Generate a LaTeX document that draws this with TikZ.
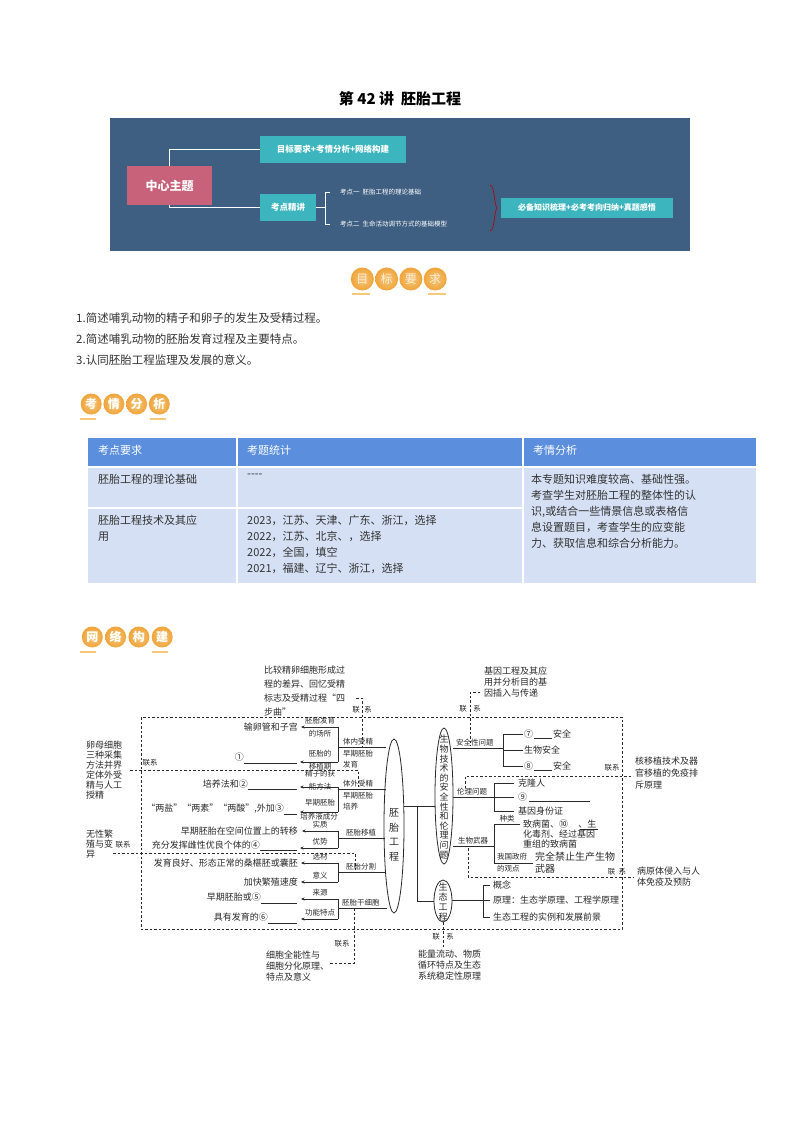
\documentclass[tikz,border=0pt]{standalone}
\usepackage{fontspec}
\setmainfont{Noto Sans CJK SC}
\usetikzlibrary{arrows.meta}
\definecolor{banner}{HTML}{3E5F82}
\definecolor{pinkc}{HTML}{C8617A}
\definecolor{tealc}{HTML}{3DB5BF}
\definecolor{headc}{HTML}{5B8FDD}
\definecolor{bodyc}{HTML}{D5E0F4}
\definecolor{orangec}{HTML}{EFA43B}
\definecolor{orangel}{HTML}{F7C77A}
\definecolor{inkc}{HTML}{2A2A2A}
\begin{document}
\begin{tikzpicture}[x=1pt,y=-1pt,
  mm/.style={font=\fontsize{9}{10.5}\selectfont, inner sep=0pt, text=inkc},
  mms/.style={font=\fontsize{7.5}{8.5}\selectfont, inner sep=0pt, text=inkc},
  ln/.style={draw=inkc, line width=0.8pt},
  arr/.style={draw=inkc, line width=0.8pt, -{Stealth[length=3.5pt,width=3pt]}},
  dsh/.style={draw=inkc, line width=0.7pt, dash pattern=on 2.5pt off 2pt},
  body/.style={font=\fontsize{11.5}{14}\selectfont, inner sep=0pt, anchor=west, text=black!80},
  cell/.style={font=\fontsize{11}{16}\selectfont, inner sep=0pt, anchor=north west, text=black!80, align=left},
  badge/.style={circle, inner sep=0pt, minimum size=23pt, shading=radial, inner color=orangel, outer color=orangec, text=white, font=\fontsize{12}{12}\selectfont\bfseries},
  wt/.style={text=white, inner sep=0pt}]
\useasboundingbox (0,0) rectangle (800,1132);
\fill[white] (0,0) rectangle (800,1132);

% title
\node[font=\fontsize{15}{15}\selectfont\bfseries] (title) at (400,99) {第 42 讲\ \ 胚胎工程};

% banner
\fill[banner] (110,118) rectangle (690,251);
\node[fill=pinkc, minimum width=85pt, minimum height=39pt, wt, font=\fontsize{12}{12}\selectfont\bfseries] (c) at (169.5,185.5) {中心主题};
\node[fill=tealc, minimum width=146pt, minimum height=27pt, wt, font=\fontsize{8.5}{8.5}\selectfont\bfseries] (b1) at (333,149.5) {目标要求+考情分析+网络构建};
\node[fill=tealc, minimum width=56pt, minimum height=27pt, wt, font=\fontsize{8.5}{8.5}\selectfont\bfseries] (b2) at (288,207.5) {考点精讲};
\draw[white, line width=1.3pt] (c.north) |- (b1.west);
\draw[white, line width=1.3pt] (c.south) |- (b2.west);
\draw[white, line width=0.8pt] (b2.east) -- (325,207.5);
\draw[white, line width=0.8pt] (330,192) -- (325,192) -- (325,224) -- (330,224);
\node[wt, anchor=west, font=\fontsize{6.5}{6.5}\selectfont] (k1) at (340,192) {考点一\ \ 胚胎工程的理论基础};
\node[wt, anchor=west, font=\fontsize{6.5}{6.5}\selectfont] (k2) at (340,224) {考点二\ \ 生命活动调节方式的基础模型};
\draw[red!70!black, line width=0.6pt] (490,185) .. controls (495,186) and (494,205) .. (497,208) .. controls (494,211) and (495,230) .. (490,231);
\node[fill=tealc, minimum width=172pt, minimum height=20pt, wt, font=\fontsize{8}{8}\selectfont\bfseries] (b3) at (587,207.5) {必备知识梳理+必考考向归纳+真题感悟};

% badge 1
\foreach \t [count=\i] in {目,标,要,求}
  \node[badge, font=\fontsize{12}{12}\selectfont, text=white!85!orange] at (338+24.3*\i,279) {\t};
\fill[orangel] (352,293) rectangle (370,295);
\fill[orangel] (428,293) rectangle (446,295);

\node[body] (l1) at (76,318) {1.简述哺乳动物的精子和卵子的发生及受精过程。};
\node[body] (l2) at (76,339) {2.简述哺乳动物的胚胎发育过程及主要特点。};
\node[body] (l3) at (76,360) {3.认同胚胎工程监理及发展的意义。};

% badge 2
\foreach \t [count=\i] in {考,情,分,析}
  \node[badge, minimum size=21pt] at (68.5+22.7*\i,404) {\t};
\fill[orangel] (80,418) rectangle (96,420);
\fill[orangel] (150,418) rectangle (166,420);

% table
\fill[headc] (88,438) rectangle (756,467);
\fill[bodyc] (88,467) rectangle (756,583);
\draw[white, line width=1.2pt] (88,467) -- (756,467) (88,508) -- (523,508) (237,438) -- (237,583) (523,438) -- (523,583);
\node[cell, text=white] at (98,445) {考点要求};
\node[cell, text=white] at (247,445) {考题统计};
\node[cell, text=white] at (533,445) {考情分析};
\node[cell] at (98,474) {胚胎工程的理论基础};
\node[cell] at (247,474) {-{}-{}-{}-};
\node[cell] at (98,515) {胚胎工程技术及其应\\用};
\node[cell] at (247,515) {2023，江苏、天津、广东、浙江，选择\\2022，江苏、北京、，选择\\2022，全国，填空\\2021，福建、辽宁、浙江，选择};
\node[cell] at (531,474) {本专题知识难度较高、基础性强。\\考查学生对胚胎工程的整体性的认\\识,或结合一些情景信息或表格信\\息设置题目，考查学生的应变能\\力、获取信息和综合分析能力。};

% badge 3
\foreach \t [count=\i] in {网,络,构,建}
  \node[badge, minimum size=21pt] at (69+23.3*\i,637) {\t};
\fill[orangel] (80,651) rectangle (96,653);
\fill[orangel] (152,651) rectangle (168,653);

% ===== mind map =====
\draw[dsh] (141,717) rectangle (622,929);

\node[mm, anchor=north west, align=left, font=\fontsize{9}{14}\selectfont] (n1) at (264,666) {比较精卵细胞形成过\\程的差异、回忆受精\\标志及受精过程“四\\步曲”};
\draw[dsh] (356,698) -- (362,698) -- (362,747);
\node[mms] at (356,710) {联};
\node[mms] at (368,710) {系};

\node[mm, anchor=north west, align=left, font=\fontsize{9}{10}\selectfont] (n2) at (86,741) {卵母细胞\\三种采集\\方法并界\\定体外受\\精与人工\\授精};
\draw[dsh] (130,770) -- (358,770) -- (358,787);
\node[mms] at (150,763) {联系};

\node[mm, anchor=north west, align=left, font=\fontsize{9}{10}\selectfont] (n3) at (86,830) {无性繁\\殖与变\\异};
\draw[dsh] (113,853) -- (355,853) -- (355,873);
\node[mms] at (123,845) {联系};

\node[mm, anchor=north west, align=left, font=\fontsize{9}{11}\selectfont] (n4) at (266,951) {细胞全能性与\\细胞分化原理、\\特点及意义};
\draw[dsh] (330,963) -- (354,963) -- (354,908);
\node[mms] at (342,944) {联系};

\draw[ln] (394,826) ellipse [x radius=10, y radius=87];
\node[mm, align=center, font=\fontsize{10}{14.5}\selectfont] (e1) at (394,835) {胚\\胎\\工\\程};

% branch 1
\draw[ln] (338,747) -- (386,747);
\node[mms, anchor=south west] at (343,745) {体内受精};
\node[mms, anchor=north west] at (343,750) {早期胚胎};
\node[mms, anchor=north west] at (343,761) {发育};
\draw[ln] (338,727) -- (338,762);
\draw[arr] (338,727) -- (301,727);
\draw[arr] (338,762) -- (300,762);
\node[mms] at (320,721) {胚胎发育};
\node[mms] at (320,734) {的场所};
\node[mms] at (320,754) {胚胎的};
\node[mms] at (320,767) {移植期};
\node[mm, anchor=east] at (298,727) {输卵管和子宫};
\node[mm, anchor=east] at (244,757) {①};
\draw[ln, line width=0.5pt] (244,763) -- (297,763);

% branch 2
\draw[ln] (338,789) -- (386,789);
\node[mms, anchor=south west] at (343,787) {体外受精};
\node[mms, anchor=north west] at (343,792) {早期胚胎};
\node[mms, anchor=north west] at (343,803) {培养};
\draw[ln] (338,787) -- (338,812);
\draw[arr] (338,787) -- (300,787);
\draw[arr] (338,812) -- (300,812);
\node[mms] at (320,774) {精子的获};
\node[mms] at (320,787) {能方法};
\node[mms] at (320,803) {早期胚胎};
\node[mms] at (319,817) {培养液成分};
\node[mm, anchor=east] at (248,784) {培养法和②};
\draw[ln, line width=0.5pt] (248,789) -- (297,789);
\node[mm, anchor=east] at (284,809) {“两盐”“两素”“两酸”,外加③};
\draw[ln, line width=0.5pt] (284,814) -- (297,814);

% branch 3
\draw[ln] (338,838) -- (385,838);
\node[mms, anchor=south west] at (346,836) {胚胎移植};
\draw[ln] (338,831) -- (338,848);
\draw[arr] (338,831) -- (302,831);
\draw[arr] (338,848) -- (300,848);
\node[mms] at (320,825) {实质};
\node[mms] at (320,842) {优势};
\node[mm, anchor=east] at (298,831) {早期胚胎在空间位置上的转移};
\node[mm, anchor=east] at (260,845) {充分发挥雌性优良个体的④};
\draw[ln, line width=0.5pt] (260,850) -- (297,850);

% branch 4
\draw[ln] (338,872) -- (385,872);
\node[mms, anchor=south west] at (346,870) {胚胎分割};
\draw[ln] (338,863) -- (338,882);
\draw[arr] (338,863) -- (301,863);
\draw[arr] (338,882) -- (301,882);
\node[mms] at (320,857) {选材};
\node[mms] at (320,876) {意义};
\node[mm, anchor=east] at (298,863) {发育良好、形态正常的桑椹胚或囊胚};
\node[mm, anchor=east] at (298,882) {加快繁殖速度};

% branch 5
\draw[ln] (338,908) -- (387,908);
\node[mms, anchor=south west] at (342,906) {胚胎干细胞};
\draw[ln] (338,899) -- (338,919);
\draw[arr] (338,899) -- (301,899);
\draw[arr] (338,919) -- (301,919);
\node[mms] at (320,893) {来源};
\node[mms] at (320,913) {功能特点};
\node[mm, anchor=east] at (261,897) {早期胚胎或⑤};
\draw[ln, line width=0.5pt] (261,903) -- (297,903);
\node[mm, anchor=east] at (268,917) {具有发育的⑥};
\draw[ln, line width=0.5pt] (268,923) -- (297,923);

\draw[ln] (404,806) -- (435,806);
\draw[ln] (417,806) -- (417,901) -- (434,901);

\draw[ln] (444,796) ellipse [x radius=9, y radius=68];
\node[mm, align=center, font=\fontsize{9}{9.6}\selectfont] (e2) at (444,797) {生\\物\\技\\术\\的\\安\\全\\性\\和\\伦\\理\\问\\题};

\draw[ln] (443,901) ellipse [x radius=9, y radius=21];
\node[mm, align=center, font=\fontsize{9}{10}\selectfont] (e3) at (443,902) {生\\态\\工\\程};

% safety
\draw[ln] (453,748) -- (503,748);
\node[mms, anchor=south west] at (456,746) {安全性问题};
\draw[ln] (523,734) -- (503,734) -- (503,766) -- (523,766) (503,750) -- (523,750);
\node[mm, anchor=west] at (524,734) {⑦};
\draw[ln, line width=0.5pt] (534,738) -- (552,738);
\node[mm, anchor=west] at (553,734) {安全};
\node[mm, anchor=west] at (524,750) {生物安全};
\node[mm, anchor=west] at (524,766) {⑧};
\draw[ln, line width=0.5pt] (534,770) -- (552,770);
\node[mm, anchor=west] at (553,766) {安全};

\node[mm, anchor=north west, align=left, font=\fontsize{9}{11}\selectfont] (n5) at (484,667) {基因工程及其应\\用并分析目的基\\因插入与传递};
\draw[dsh] (480,692) -- (470,692) -- (470,746);
\node[mms] at (463,709) {联};
\node[mms] at (477,709) {系};

% ethics
\draw[ln] (453,797) -- (494,797);
\node[mms, anchor=south west] at (457,795) {伦理问题};
\draw[ln] (514,783) -- (494,783) -- (494,811) -- (514,811) (494,797) -- (514,797);
\node[mm, anchor=west] at (518,783) {克隆人};
\node[mm, anchor=west] at (518,797) {⑨};
\draw[ln, line width=0.5pt] (529,801) -- (590,801);
\node[mm, anchor=west] at (518,811) {基因身份证};
\draw[dsh] (465,788) -- (465,776) -- (633,776);
\node[mms] at (612,768) {联系};
\node[mm, anchor=north west, align=left, font=\fontsize{9}{12}\selectfont] (n6) at (635,757) {核移植技术及器\\官移植的免疫排\\斥原理};

% bioweapons
\draw[ln] (453,846) -- (494,846);
\node[mms, anchor=south west] at (458,844) {生物武器};
\draw[ln] (520,824) -- (494,824) -- (494,863) -- (533,863);
\node[mms] at (507,819) {种类};
\node[mm, anchor=north west, align=left, font=\fontsize{9}{10}\selectfont] at (523,820) {致病菌、⑩\hphantom{\ \ \ \ \ }、生\\化毒剂、经过基因\\重组的致病菌};
\draw[ln, line width=0.5pt] (580,829) -- (598,829);
\node[mms, anchor=north west, align=left, font=\fontsize{7.5}{12}\selectfont] at (497,853) {我国政府\\的观点};
\node[mm, anchor=north west, align=left, font=\fontsize{10}{12}\selectfont] at (535,852) {完全禁止生产生物\\武器};
\draw[dsh] (468,848) -- (468,877) -- (633,877);
\node[mms] at (617,872) {联\ \ 系};
\node[mm, anchor=north west, align=left, font=\fontsize{9}{11}\selectfont] (n7) at (637,867) {病原体侵入与人\\体免疫及预防};

% ecology
\draw[ln] (452,900) -- (483,900);
\draw[ln] (490,885) -- (483,885) -- (483,917) -- (490,917) (483,900) -- (490,900);
\node[mm, anchor=west] at (493,885) {概念};
\node[mm, anchor=west] at (493,900) {原理：生态学原理、工程学原理};
\node[mm, anchor=west] at (493,917) {生态工程的实例和发展前景};

\draw[dsh] (443,922) -- (443,947);
\node[mms] at (436,937) {联};
\node[mms] at (450,937) {系};
\node[mm, anchor=north west, align=left, font=\fontsize{9}{11}\selectfont] (n8) at (418,950) {能量流动、物质\\循环特点及生态\\系统稳定性原理};
\end{tikzpicture}
\end{document}
